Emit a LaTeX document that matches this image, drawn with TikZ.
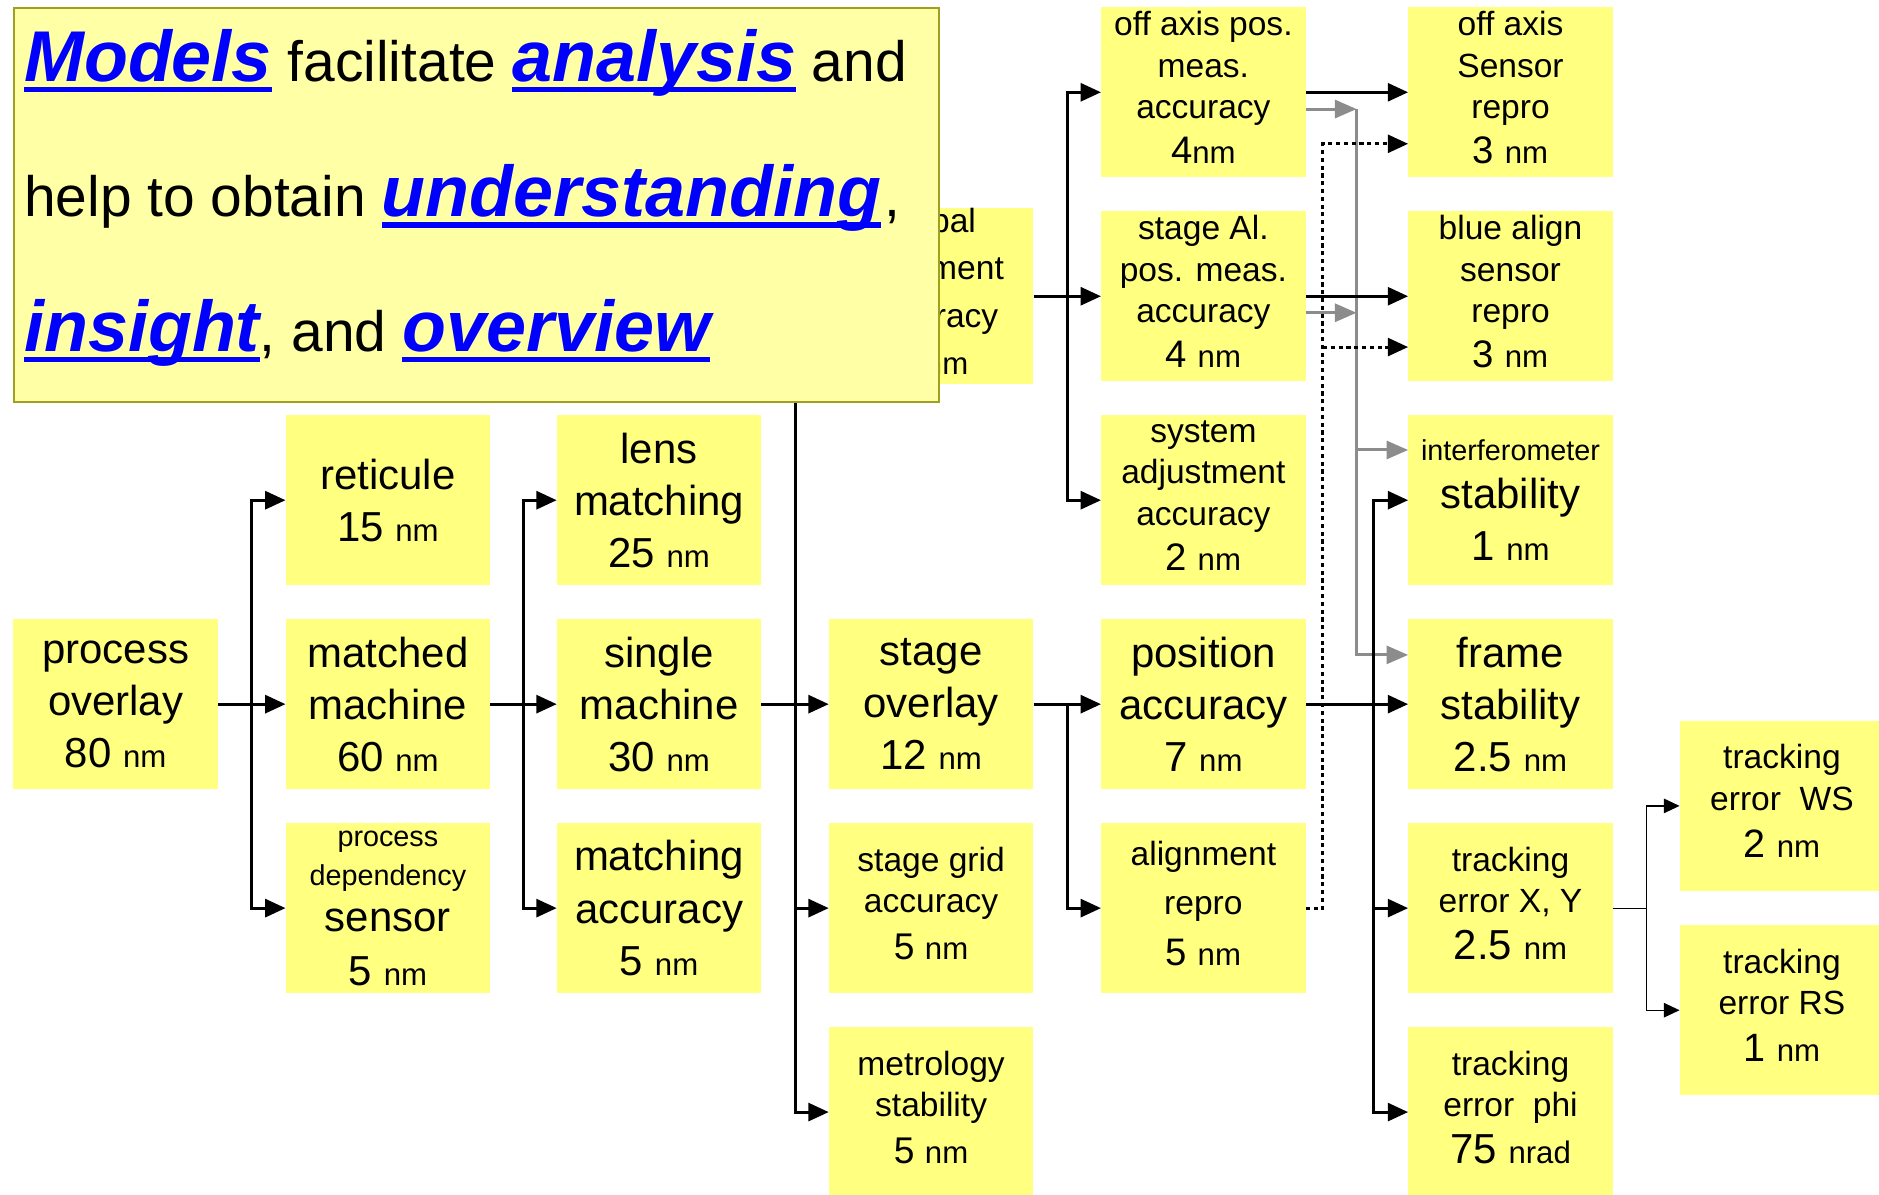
\documentclass[tikz,border=0pt]{standalone}
\usepackage{fontspec}
\setmainfont{Liberation Sans}
\usetikzlibrary{arrows.meta}

\definecolor{boxfill}{HTML}{FFFF80}
\definecolor{notefill}{HTML}{FFFFA6}
\definecolor{noteedge}{HTML}{A0A020}
\definecolor{busgray}{HTML}{8C8C8C}
\definecolor{kwblue}{HTML}{0000FF}

% value: number at size #1, smaller unit
\newcommand{\val}[3]{{\fontsize{#1}{#1}\selectfont #2 }{\fontsize{26}{26}\selectfont #3}}
% large word inside a smaller box text
\newcommand{\Lg}[1]{{\fontsize{35}{35}\selectfont #1}}
% extra depth below the last line of medium boxes
\newcommand{\lowstrut}{\rule[-8pt]{0pt}{0pt}}
% keyword: blue bold italic with a thick underline
\newsavebox{\kwbox}
\newcommand{\kw}[1]{\sbox{\kwbox}{\color{kwblue}\fontsize{60}{60}\selectfont\bfseries\itshape #1}\textcolor{kwblue}{\rlap{\rule[-9pt]{\wd\kwbox}{4.5pt}}}\usebox{\kwbox}}

\tikzset{
  cell/.style={rectangle, fill=boxfill, minimum width=170.5pt, minimum height=142pt, inner sep=0pt, align=center},
  cellL/.style={cell, font=\fontsize{35}{43.5}\selectfont},
  cellM/.style={cell, font=\fontsize{28}{34.5}\selectfont},
  cellS/.style={cell, font=\fontsize{24}{33}\selectfont},
  conn/.style={line width=2.5pt, -{Triangle[length=17pt,width=15pt]}},
  grayconn/.style={color=busgray, line width=2.5pt, -{Triangle[length=18pt,width=15pt]}},
  dotconn/.style={line width=2.5pt, dash pattern=on 3.5pt off 3pt, -{Triangle[length=17pt,width=15pt]}},
  thinconn/.style={line width=1pt, -{Triangle[length=13pt,width=12pt]}},
  thinbar/.style={line width=1pt},
}

\begin{document}
\begin{tikzpicture}[x=1pt, y=-1pt]
\fill[white] (0,0) rectangle (1568,997);
\useasboundingbox (0,0) rectangle (1568,997);

% ---- budget boxes ----
\node[cellL] (po) at (96.5,587.6) {process\\overlay\\\val{35}{80}{nm}};

\node[cellL] (ret) at (323.7,417.4) {reticule\\\val{35}{15}{nm}};
\node[cellL] (mm) at (323.7,587.6) {matched\\machine\\\val{35}{60}{nm}};
\node[cellS] (pds) at (323.7,757.8) {process\\dependency\\[5pt]\Lg{sensor}\\[12pt]\val{35}{5}{nm}};

\node[cellL] (lens) at (550,417.4) {lens\\matching\\\val{35}{25}{nm}};
\node[cellL] (sm) at (550,587.6) {single\\machine\\\val{35}{30}{nm}};
\node[cellL] (mac) at (550,757.8) {matching\\accuracy\\\val{35}{5}{nm}};

\node[cellM, font=\fontsize{28}{39.4}\selectfont] (gal) at (777,247.2) {global\\alignment\\accuracy\\\val{31}{6}{nm}\lowstrut};
\node[cellL] (sov) at (777,587.6) {stage\\overlay\\\val{35}{12}{nm}};
\node[cellM] (sga) at (777,757.8) {stage grid\\accuracy\\[5pt]\val{31}{5}{nm}\lowstrut};
\node[cellM] (met) at (777,928) {metrology\\stability\\[5pt]\val{31}{5}{nm}\lowstrut};

\node[cellM] (oap) at (1004.2,77) {off axis pos.\\meas.\\accuracy\\[3pt]{\fontsize{32}{32}\selectfont 4}{\fontsize{26}{26}\selectfont nm}\lowstrut};
\node[cellM] (sal) at (1004.2,247.2) {stage Al.\\pos. meas.\\accuracy\\[3pt]\val{32}{4}{nm}\lowstrut};
\node[cellM] (sad) at (1004.2,417.4) {system\\adjustment\\accuracy\\[3pt]\val{32}{2}{nm}\lowstrut};
\node[cellL] (pac) at (1004.2,587.6) {position\\accuracy\\\val{35}{7}{nm}};
\node[cellM, font=\fontsize{28}{41}\selectfont] (arp) at (1004.2,757.8) {alignment\\repro\\[1pt]\val{32}{5}{nm}\lowstrut};

\node[cellM] (oas) at (1260.5,77) {off axis\\Sensor\\repro\\[3pt]\val{32}{3}{nm}\lowstrut};
\node[cellM] (bas) at (1260.5,247.2) {blue align\\sensor\\repro\\[3pt]\val{32}{3}{nm}\lowstrut};
\node[cellS] (ifs) at (1260.5,417.4) {interferometer\\[7pt]\Lg{stability}\\[11pt]\val{35}{1}{nm}};
\node[cellL] (frs) at (1260.5,587.6) {frame\\stability\\\val{35}{2.5}{nm}};
\node[cellM] (txy) at (1260.5,757.8) {tracking\\error X, Y\\[5pt]\val{35}{2.5}{nm}\lowstrut};
\node[cellM] (tphi) at (1260.5,928) {tracking\\error\ \ phi\\[5pt]\val{35}{75}{nrad}\lowstrut};

\node[cellM] (tws) at (1487,672.5) {tracking\\error\ \ WS\\[5pt]\val{33}{2}{nm}\lowstrut};
\node[cellM] (trs) at (1487,843) {tracking\\error RS\\[5pt]\val{33}{1}{nm}\lowstrut};

% ---- junction points of the fan-outs ----
\coordinate (j1) at (209.5,587.6);
\coordinate (j2) at (437,587.6);
\coordinate (j3) at (663.5,587.6);
\coordinate (j4) at (891,247.2);
\coordinate (j5) at (891,587.6);
\coordinate (j6) at (1146.5,587.6);
\coordinate (j7) at (1374,757.8);

% gray bus (interferometer and frame)
\coordinate (gA) at (1132,91);
\coordinate (gB) at (1132,261);
\coordinate (gC) at (1132,375.5);
\coordinate (gD) at (1132,546.5);
% dotted bus from alignment repro
\coordinate (dA) at (1104,120);
\coordinate (dB) at (1104,289.6);
\coordinate (dC) at (1104,757.8);

\draw[grayconn] (oap.east |- gA) -- (gA);
\draw[grayconn] (sal.east |- gB) -- (gB);
\draw[grayconn] (gA) |- (frs.west |- gD);
\draw[grayconn] (gC) -- (ifs.west |- gC);

\draw[dotconn] (arp.east) -- (dC) -- (dA) -- (oas.west |- dA);
\draw[dotconn] (dB) -- (bas.west |- dB);

% process overlay
\draw[conn] (po.east) -- (mm.west);
\draw[conn] (j1) |- (ret.west);
\draw[conn] (j1) |- (pds.west);
% matched machine
\draw[conn] (mm.east) -- (sm.west);
\draw[conn] (j2) |- (lens.west);
\draw[conn] (j2) |- (mac.west);
% single machine
\draw[conn] (sm.east) -- (sov.west);
\draw[conn] (j3) |- (gal.west);
\draw[conn] (j3) |- (sga.west);
\draw[conn] (j3) |- (met.west);
% global alignment
\draw[conn] (gal.east) -- (sal.west);
\draw[conn] (j4) |- (oap.west);
\draw[conn] (j4) |- (sad.west);
% stage overlay
\draw[conn] (sov.east) -- (pac.west);
\draw[conn] (j5) |- (arp.west);
% position accuracy
\draw[conn] (pac.east) -- (frs.west);
\draw[conn] (j6) |- (ifs.west);
\draw[conn] (j6) |- (txy.west);
\draw[conn] (j6) |- (tphi.west);
% sensor repro
\draw[conn] (oap.east) -- (oas.west);
\draw[conn] (sal.east) -- (bas.west);
% tracking error split
\draw[thinbar] (txy.east) -- (j7);
\draw[thinconn] (j7) |- (tws.west);
\draw[thinconn] (j7) |- (trs.west);

% ---- note card on top ----
\node[draw=noteedge, fill=notefill, line width=1.5pt, minimum width=772pt, minimum height=329pt, inner sep=0pt, anchor=north west] (note) at (11,6) {};
\node[anchor=base west, inner sep=0pt, font=\fontsize{47.5}{50}\selectfont] (l1) at (20,68) {\kw{Models} facilitate \kw{analysis} and};
\node[anchor=base west, inner sep=0pt, font=\fontsize{47.5}{50}\selectfont] (l2) at (20,181) {help to obtain \kw{understanding}\kern3pt,};
\node[anchor=base west, inner sep=0pt, font=\fontsize{47.5}{50}\selectfont] (l3) at (20,293) {\kw{insight}, and \kw{overview}};
\end{tikzpicture}
\end{document}
